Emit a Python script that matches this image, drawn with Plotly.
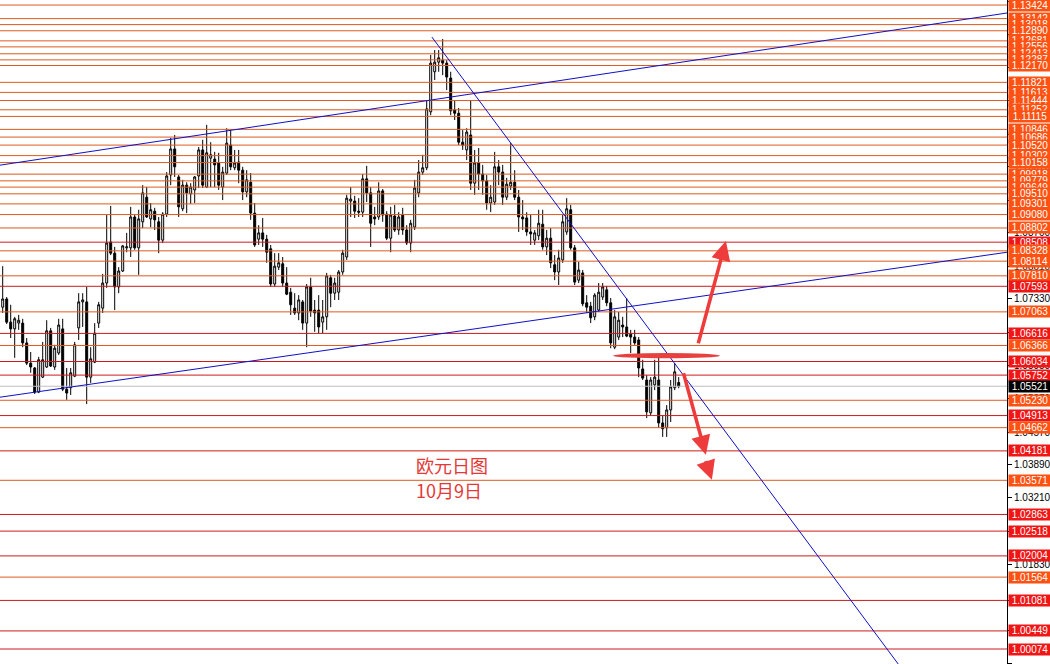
import plotly.graph_objects as go

# ---------------- data (EUR/USD daily) ----------------
opens = [1.0716,1.0733,1.0685,1.0671,1.0683,1.0683,1.0642,1.0600,1.0590,1.0540,
         1.0571,1.0592,1.0667,1.0592,1.0621,1.0671,1.0546,1.0549,1.0573,1.0673,
         1.0727,1.0727,1.0571,1.0602,1.0683,1.0714,1.0766,1.0851,1.0828,1.0758,
         1.0791,1.0839,1.0839,1.0903,1.0839,1.0893,1.0944,1.0899,1.0915,1.0893,
         1.0855,1.0909,1.0990,1.1044,1.0986,1.0920,1.0969,1.0951,1.0959,1.0988,
         1.1042,1.0965,1.1025,1.1023,1.1015,1.0965,1.0994,1.1052,1.1005,1.1017,
         1.1000,1.0955,1.0975,1.0911,1.0857,1.0870,1.0857,1.0837,1.0764,1.0799,
         1.0806,1.0766,1.0747,1.0714,1.0704,1.0727,1.0683,1.0758,1.0710,1.0710,
         1.0685,1.0696,1.0777,1.0745,1.0747,1.0789,1.0820,1.0936,1.0936,1.0915,
         1.0913,1.0982,1.0953,1.0903,1.0903,1.0957,1.0909,1.0859,1.0905,1.0876,
         1.0907,1.0876,1.0849,1.0882,1.0953,1.0996,1.1005,1.1121,1.1204,1.1224,
         1.1228,1.1222,1.1191,1.1125,1.1118,1.1058,1.1042,1.1073,1.0973,1.1015,
         1.0992,1.0978,1.0932,1.0934,1.1007,1.0996,1.0944,1.0967,1.0975,1.0944,
         1.0903,1.0901,1.0872,1.0855,1.0864,1.0888,1.0841,1.0859,1.0804,1.0789,
         1.0814,1.0872,1.0918,1.0839,1.0772,1.0787,1.0725,1.0718,1.0696,1.0710,
         1.0737,1.0752,1.0725,1.0633,1.0654,1.0679,1.0675,1.0660,1.0654,1.0648,
         1.0588,1.0565,1.0497,1.0555,1.0565,1.0476,1.0466,1.0503,1.0549,1.0560]
highs = [1.0801,1.0737,1.0721,1.0696,1.0700,1.0692,1.0652,1.0623,1.0592,1.0613,
         1.0644,1.0689,1.0673,1.0638,1.0692,1.0692,1.0590,1.0590,1.0644,1.0745,
         1.0745,1.0758,1.0633,1.0683,1.0727,1.0785,1.0907,1.0926,1.0841,1.0799,
         1.0845,1.0870,1.0924,1.0907,1.0918,1.0969,1.0965,1.0932,1.0922,1.0903,
         1.0913,1.0996,1.1067,1.1073,1.0990,1.0980,1.0975,1.0973,1.0988,1.1048,
         1.1063,1.1094,1.1058,1.1038,1.1036,1.1007,1.1087,1.1083,1.1042,1.1042,
         1.1007,1.1000,1.0994,1.0932,1.0886,1.0901,1.0866,1.0845,1.0828,1.0828,
         1.0820,1.0799,1.0756,1.0745,1.0741,1.0731,1.0764,1.0777,1.0731,1.0741,
         1.0731,1.0787,1.0783,1.0777,1.0793,1.0835,1.0949,1.0965,1.0947,1.0942,
         1.0992,1.1009,1.0965,1.0924,1.0975,1.0961,1.0915,1.0924,1.0928,1.0913,
         1.0922,1.0886,1.0897,1.0980,1.1021,1.1032,1.1145,1.1239,1.1249,1.1249,
         1.1272,1.1228,1.1204,1.1145,1.1129,1.1083,1.1087,1.1145,1.1042,1.1046,
         1.1011,1.0990,1.0969,1.1038,1.1021,1.1011,1.0984,1.1056,1.1000,1.0959,
         1.0938,1.0913,1.0907,1.0876,1.0918,1.0918,1.0876,1.0880,1.0824,1.0835,
         1.0907,1.0942,1.0928,1.0845,1.0810,1.0793,1.0741,1.0727,1.0745,1.0766,
         1.0766,1.0760,1.0735,1.0710,1.0706,1.0696,1.0735,1.0669,1.0669,1.0654,
         1.0607,1.0575,1.0571,1.0607,1.0611,1.0492,1.0513,1.0565,1.0600,1.0571]
lows = [1.0704,1.0681,1.0652,1.0611,1.0669,1.0633,1.0596,1.0580,1.0536,1.0538,
        1.0569,1.0590,1.0592,1.0586,1.0617,1.0542,1.0524,1.0534,1.0571,1.0648,
        1.0675,1.0515,1.0559,1.0600,1.0673,1.0704,1.0756,1.0824,1.0710,1.0745,
        1.0789,1.0830,1.0820,1.0835,1.0783,1.0880,1.0901,1.0882,1.0876,1.0828,
        1.0849,1.0903,1.0969,1.0986,1.0903,1.0915,1.0911,1.0930,1.0932,1.0963,
        1.0963,1.0963,1.0965,1.0965,1.0959,1.0938,1.0990,1.1000,1.1000,1.0973,
        1.0938,1.0944,1.0897,1.0841,1.0845,1.0841,1.0808,1.0758,1.0758,1.0793,
        1.0758,1.0741,1.0700,1.0700,1.0689,1.0669,1.0633,1.0696,1.0665,1.0662,
        1.0662,1.0669,1.0716,1.0731,1.0731,1.0783,1.0814,1.0903,1.0901,1.0903,
        1.0903,1.0934,1.0841,1.0886,1.0897,1.0893,1.0855,1.0830,1.0872,1.0866,
        1.0866,1.0845,1.0830,1.0876,1.0944,1.0990,1.1000,1.1114,1.1187,1.1204,
        1.1197,1.1166,1.1114,1.1104,1.1052,1.1042,1.1021,1.0959,1.0949,1.0959,
        1.0949,1.0918,1.0913,1.0928,1.0969,1.0928,1.0938,1.0959,1.0938,1.0872,
        1.0876,1.0864,1.0845,1.0845,1.0855,1.0835,1.0824,1.0797,1.0772,1.0762,
        1.0808,1.0866,1.0835,1.0762,1.0766,1.0718,1.0704,1.0683,1.0689,1.0706,
        1.0731,1.0718,1.0631,1.0629,1.0648,1.0654,1.0654,1.0621,1.0638,1.0571,
        1.0565,1.0486,1.0492,1.0544,1.0466,1.0447,1.0447,1.0478,1.0544,1.0548]
closes = [1.0733,1.0685,1.0671,1.0692,1.0689,1.0642,1.0600,1.0592,1.0540,1.0607,
          1.0607,1.0667,1.0594,1.0631,1.0679,1.0546,1.0538,1.0580,1.0638,1.0727,
          1.0731,1.0571,1.0609,1.0662,1.0721,1.0766,1.0849,1.0828,1.0758,1.0791,
          1.0843,1.0841,1.0903,1.0839,1.0899,1.0953,1.0903,1.0918,1.0897,1.0855,
          1.0909,1.0988,1.1044,1.1007,1.0924,1.0969,1.0953,1.0965,1.0986,1.1042,
          1.0969,1.1036,1.1032,1.1011,1.0969,1.0996,1.1056,1.1007,1.1015,1.1000,
          1.0955,1.0980,1.0911,1.0845,1.0870,1.0857,1.0830,1.0764,1.0801,1.0808,
          1.0766,1.0743,1.0721,1.0704,1.0731,1.0683,1.0758,1.0708,1.0704,1.0675,
          1.0696,1.0781,1.0745,1.0766,1.0789,1.0828,1.0942,1.0940,1.0915,1.0913,
          1.0982,1.0953,1.0890,1.0899,1.0957,1.0907,1.0859,1.0907,1.0876,1.0903,
          1.0876,1.0849,1.0890,1.0963,1.0996,1.1005,1.1127,1.1222,1.1224,1.1233,
          1.1222,1.1193,1.1123,1.1118,1.1058,1.1052,1.1079,1.0973,1.1015,1.0992,
          1.0978,1.0932,1.0944,1.1007,1.0996,1.0944,1.0971,1.0975,1.0944,1.0903,
          1.0899,1.0872,1.0868,1.0870,1.0890,1.0841,1.0859,1.0808,1.0789,1.0818,
          1.0893,1.0920,1.0839,1.0768,1.0793,1.0723,1.0716,1.0694,1.0741,1.0747,
          1.0758,1.0725,1.0642,1.0696,1.0689,1.0675,1.0656,1.0654,1.0642,1.0590,
          1.0569,1.0499,1.0565,1.0571,1.0476,1.0464,1.0503,1.0551,1.0582,1.0552]

orange_levels = [1.13424,1.13142,1.13018,1.12890,1.12681,1.12556,1.12413,1.12287,1.12170,
                 1.11821,1.11613,1.11444,1.11252,1.11115,1.10846,1.10686,1.10520,1.10302,
                 1.10158,1.09918,1.09779,1.09649,1.09510,1.09301,1.09080,1.08802,1.08328,
                 1.08114,1.07810,1.07063,1.06366,1.05230,1.04662,1.03571,1.01564]
red_levels = [1.08508,1.07593,1.06616,1.06034,1.05752,1.04913,1.04181,1.02863,1.02518,
              1.02004,1.01081,1.00449,1.00074]
current_price = 1.05521

axis_ticks = ["1.13490","1.12810","1.12120","1.11440","1.10750","1.10070","1.09380",
              "1.08700","1.08010","1.07330","1.06640","1.05950","1.05270","1.04570",
              "1.03890","1.03210","1.02520","1.01830","1.01080","1.00450","0.99770"]

# trend lines: (bar index, price) end points
upper_channel = [(-1, 1.1010), (252, 1.1327)]
lower_channel = [(-1, 1.0529), (252, 1.0831)]
down_trend = [(107.3, 1.1276), (230, 0.9908)]

# marks drawn on the chart: ellipse and arrows (bar index, price)
zone = [(152.6, 1.0610), (179.3, 1.0621)]
arrow_up = [(173.8, 1.0638), (180.8, 1.0853)]
arrow_down1 = [(170.1, 1.0582), (175.8, 1.0410)]
arrow_down2 = [(175.6, 1.0400), (177.3, 1.0358)]

title_lines = ["欧元日图", "10月9日"]
title_pos = [(102.8, 1.0389), (102.8, 1.0337)]

# ---------------- figure ----------------
x = list(range(len(opens)))
fig = go.Figure()
fig.add_trace(go.Candlestick(
    x=x, open=opens, high=highs, low=lows, close=closes,
    increasing=dict(line=dict(color="black", width=1), fillcolor="white"),
    decreasing=dict(line=dict(color="black", width=1), fillcolor="black"),
    whiskerwidth=0, hoverinfo="skip"))

ORANGE_LINE = "#DE5A1E"
RED_LINE = "#CC1A1A"
ORANGE_LBL = "#FF5212"
RED_LBL = "#F01616"

shapes = []
for p in orange_levels:
    shapes.append(dict(type="line", xref="paper", x0=0, x1=1, yref="y", y0=p, y1=p,
                       line=dict(color=ORANGE_LINE, width=1), layer="above"))
for p in red_levels:
    shapes.append(dict(type="line", xref="paper", x0=0, x1=1, yref="y", y0=p, y1=p,
                       line=dict(color=RED_LINE, width=1), layer="above"))
shapes.append(dict(type="line", xref="paper", x0=0, x1=1, yref="y", y0=current_price,
                   y1=current_price, line=dict(color="#C0C0C0", width=1), layer="above"))

for ln in (upper_channel, lower_channel, down_trend):
    shapes.append(dict(type="line", xref="x", yref="y", x0=ln[0][0], y0=ln[0][1],
                       x1=ln[1][0], y1=ln[1][1], line=dict(color="#1010C8", width=1),
                       layer="above"))

shapes.append(dict(type="circle", xref="x", yref="y", x0=zone[0][0], x1=zone[1][0],
                   y0=zone[0][1], y1=zone[1][1], fillcolor="#E8403E",
                   line=dict(width=0), layer="above"))

annotations = []
label_font = dict(family="Liberation Sans, Arial", size=10, color="white")
levels_all = [(p, ORANGE_LBL) for p in orange_levels] + [(p, RED_LBL) for p in red_levels]
levels_all.sort(key=lambda t: -t[0])
for p, c in levels_all:
    annotations.append(dict(xref="paper", x=1, yref="y", y=p, xanchor="left",
                            yanchor="middle", xshift=1, text=f"{p:.5f}", showarrow=False,
                            bgcolor=c, width=42, height=11, borderpad=0,
                            font=label_font, align="center", valign="middle"))
annotations.append(dict(xref="paper", x=1, yref="y", y=current_price, xanchor="left",
                        yanchor="middle", xshift=1, text=f"{current_price:.5f}",
                        showarrow=False, bgcolor="black", width=42, height=11,
                        borderpad=0, font=label_font, align="center", valign="middle"))

for a in (arrow_up, arrow_down1, arrow_down2):
    annotations.append(dict(x=a[1][0], y=a[1][1], ax=a[0][0], ay=a[0][1],
                            xref="x", yref="y", axref="x", ayref="y", text="",
                            showarrow=True, arrowhead=2, arrowsize=1.1, arrowwidth=3.5,
                            arrowcolor="#EE3B3B", standoff=0, startstandoff=0))

for t, (tx, ty) in zip(title_lines, title_pos):
    annotations.append(dict(x=tx, y=ty, xref="x", yref="y", xanchor="left",
                            yanchor="middle", text=t, showarrow=False,
                            font=dict(family="Noto Sans CJK SC", size=18, color="#E53935")))

fig.update_layout(
    width=1050, height=664,
    margin=dict(l=0, r=43, t=0, b=0, pad=0),
    paper_bgcolor="white", plot_bgcolor="white",
    showlegend=False,
    xaxis=dict(range=[-0.675, 251.075], visible=False, rangeslider=dict(visible=False),
               fixedrange=True),
    yaxis=dict(range=[0.99763, 1.13528], side="right", showgrid=False, zeroline=False,
               showline=True, linecolor="black", linewidth=1, ticks="outside",
               ticklen=4, tickcolor="black",
               tickvals=[float(t) for t in axis_ticks], ticktext=axis_ticks,
               tickfont=dict(family="Liberation Sans, Arial", size=10, color="black"),
               automargin=False, fixedrange=True),
    shapes=shapes, annotations=annotations,
)

fig.write_html("out.html", config={"displayModeBar": False},
               post_script="document.body.style.margin='0';document.body.style.overflow='hidden';")
